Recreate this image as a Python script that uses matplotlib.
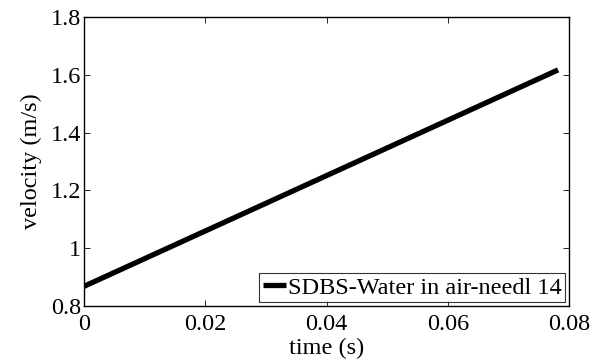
import matplotlib
matplotlib.use("Agg")
import matplotlib.pyplot as plt
from matplotlib.ticker import FuncFormatter

plt.rcParams['font.family'] = ['Liberation Serif', 'DejaVu Serif']

t = [0.0, 0.0782]
v = [0.868, 1.617]
xticks = [0, 0.02, 0.04, 0.06, 0.08]
yticks = [0.8, 1.0, 1.2, 1.4, 1.6, 1.8]
label = 'SDBS-Water in air-needl 14'

fig = plt.figure(figsize=(6.07, 3.63), dpi=100)
ax = fig.add_axes([84 / 607, 57 / 363, 485 / 607, 289 / 363])

ax.plot(t, v, color='black', lw=3.8, label=label, solid_capstyle='butt')

ax.set_xlim(0, 0.08)
ax.set_ylim(0.8, 1.8)
ax.set_xticks(xticks)
ax.set_yticks(yticks)
ax.xaxis.set_major_formatter(FuncFormatter(lambda x, p: '%g' % round(x, 4)))
ax.yaxis.set_major_formatter(FuncFormatter(lambda y, p: '%g' % round(y, 4)))
ax.tick_params(direction='in', top=True, right=True, length=4, width=0.6,
               labelsize=17.5)
ax.tick_params(axis='x', pad=6)
ax.tick_params(axis='y', pad=2)
for s in ax.spines.values():
    s.set_linewidth(1.0)

ax.set_xlabel('time (s)', fontsize=17.5, labelpad=2)
ax.set_ylabel('velocity (m/s)', fontsize=17.5, labelpad=6)

leg = ax.legend(loc='lower right', fontsize=17.5, frameon=True, fancybox=False,
                borderpad=0.15, handlelength=0.95, handletextpad=0.1,
                borderaxespad=0.15)
leg.get_frame().set_edgecolor('black')
leg.get_frame().set_linewidth(0.8)

fig.savefig('out.png', dpi=100)
